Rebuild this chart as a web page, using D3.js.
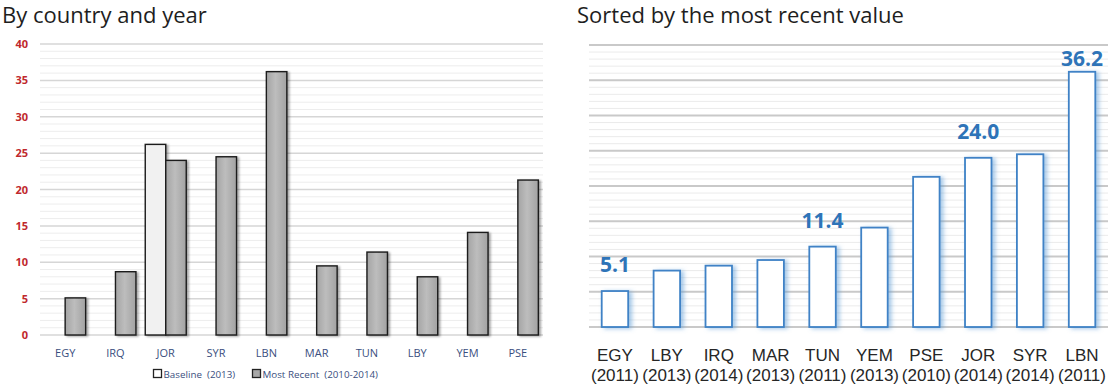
<!DOCTYPE html>
<html>
<head>
<meta charset="utf-8">
<script src="https://cdnjs.cloudflare.com/ajax/libs/d3/7.8.5/d3.min.js"></script>
<style>
  html, body { margin: 0; padding: 0; background: #ffffff; }
  svg { display: block; font-family: "Open Sans", "Noto Sans", sans-serif; }
</style>
</head>
<body>
<svg id="chart" width="1112" height="390"></svg>
<script>
// Countries in their reporting order
const countries = ["EGY", "IRQ", "JOR", "SYR", "LBN", "MAR", "TUN", "LBY", "YEM", "PSE"];
// Baseline (2013) — only Jordan reports one
const baselineValues = [null, null, 26.2, null, null, null, null, null, null, null];
// Most recent value (2010-2014)
const recentValues = [5.1, 8.7, 24.0, 24.5, 36.2, 9.5, 11.4, 8.0, 14.1, 21.3];
// Year of the most recent value
const recentYears = [2011, 2014, 2014, 2014, 2011, 2013, 2011, 2013, 2013, 2010];
// Y axis ticks
const yTicks = [0, 5, 10, 15, 20, 25, 30, 35, 40];
// Countries whose value is written above the bar in the sorted panel
const labelledCountries = ["EGY", "TUN", "JOR", "LBN"];
// Legend entries
const legendLabels = ["Baseline  (2013)", "Most Recent  (2010-2014)"];
// Panel titles
const titles = ["By country and year", "Sorted by the most recent value"];

const rows = countries.map((c, i) => ({
  country: c, baseline: baselineValues[i], recent: recentValues[i], year: recentYears[i]
}));

const svg = d3.select("#chart");
const defs = svg.append("defs");

// Grey bar gradient and shadow for the left panel
const grad = defs.append("linearGradient").attr("id", "greyBar")
  .attr("x1", 0).attr("y1", 0).attr("x2", 1).attr("y2", 0);
grad.append("stop").attr("offset", "0%").attr("stop-color", "#a4a4a4");
grad.append("stop").attr("offset", "45%").attr("stop-color", "#bdbdbd");
grad.append("stop").attr("offset", "100%").attr("stop-color", "#a2a2a2");

const shadowGrey = defs.append("filter").attr("id", "shadowGrey")
  .attr("x", "-20%").attr("y", "-10%").attr("width", "160%").attr("height", "130%");
shadowGrey.append("feDropShadow").attr("dx", 2).attr("dy", 1).attr("stdDeviation", 1)
  .attr("flood-color", "#000").attr("flood-opacity", 0.35);

const shadowBlue = defs.append("filter").attr("id", "shadowBlue")
  .attr("x", "-20%").attr("y", "-10%").attr("width", "180%").attr("height", "130%");
shadowBlue.append("feDropShadow").attr("dx", 3).attr("dy", 1).attr("stdDeviation", 2)
  .attr("flood-color", "#5b9bd5").attr("flood-opacity", 0.55);

const sansFont = "'Open Sans', 'Noto Sans', sans-serif";
const catFont = "'Liberation Sans', Arial, sans-serif";

// Titles
svg.append("text").attr("x", 2).attr("y", 23).attr("font-size", 22).attr("fill", "#1e1e1e")
  .style("font-family", sansFont).text(titles[0]);
svg.append("text").attr("x", 577).attr("y", 23).attr("font-size", 22).attr("fill", "#1e1e1e")
  .style("font-family", sansFont).text(titles[1]);

// Gridlines: a line every unit, darker every five
function drawGrid(g, y, x0, x1, majorColor, minorColor, majorWidth) {
  const units = d3.range(0, 41);
  g.selectAll("line.grid").data(units).join("line")
    .attr("class", "grid")
    .attr("x1", x0).attr("x2", x1)
    .attr("y1", d => y(d)).attr("y2", d => y(d))
    .attr("stroke", d => d % 5 === 0 ? majorColor : minorColor)
    .attr("stroke-width", d => d % 5 === 0 ? majorWidth : 1);
}

// ---------- Left panel: by country and year ----------
const L = { left: 40, right: 543, top: 44, bottom: 335 };
const yL = d3.scaleLinear().domain([0, 40]).range([L.bottom, L.top]);
const xL = d3.scaleBand().domain(countries).range([L.left, L.right])
  .paddingInner(0.185).paddingOuter(0.0925);
const xSeries = d3.scaleBand().domain(["baseline", "recent"]).range([0, xL.bandwidth()]);

const gL = svg.append("g");
drawGrid(gL, yL, L.left, L.right, "#d6d6d6", "#ededed", 1.5);

// Y axis labels
const yAxisL = d3.axisLeft(yL).tickValues(yTicks).tickSize(0).tickPadding(0);
const gAxisY = gL.append("g").attr("transform", `translate(${L.left - 12},0)`).call(yAxisL);
gAxisY.select(".domain").remove();
gAxisY.attr("font-family", null).attr("font-size", null);
gAxisY.selectAll("text").attr("font-size", 11).attr("font-weight", "bold")
  .attr("fill", "#c0282d").style("font-family", sansFont);

// Bars
const groups = gL.selectAll("g.country").data(rows).join("g")
  .attr("class", "country").attr("transform", d => `translate(${xL(d.country)},0)`);
groups.filter(d => d.baseline != null).append("rect")
  .attr("x", xSeries("baseline")).attr("width", xSeries.bandwidth())
  .attr("y", d => yL(d.baseline)).attr("height", d => yL(0) - yL(d.baseline))
  .attr("fill", "#f1f1f1").attr("stroke", "#1a1a1a").attr("stroke-width", 1.4)
  .attr("filter", "url(#shadowGrey)");
groups.append("rect")
  .attr("x", xSeries("recent")).attr("width", xSeries.bandwidth())
  .attr("y", d => yL(d.recent)).attr("height", d => yL(0) - yL(d.recent))
  .attr("fill", "url(#greyBar)").attr("stroke", "#1a1a1a").attr("stroke-width", 1.4)
  .attr("filter", "url(#shadowGrey)");

// X axis labels
const xAxisL = d3.axisBottom(xL).tickSize(0).tickPadding(0);
const gAxisX = gL.append("g").attr("transform", `translate(0,${L.bottom + 14})`).call(xAxisL);
gAxisX.select(".domain").remove();
gAxisX.selectAll("text").attr("font-size", 11).attr("fill", "#3a4e7e")
  .style("font-family", sansFont);

// Legend
const legend = gL.append("g").attr("transform", "translate(153,369)");
const legendFills = ["#ffffff", "#a8a8a8"];
const legendX = [0, 99];
legendLabels.forEach((lab, i) => {
  const g = legend.append("g").attr("transform", `translate(${legendX[i]},0)`);
  g.append("rect").attr("x", 0.5).attr("y", 0.5).attr("width", 8).attr("height", 8)
    .attr("fill", legendFills[i]).attr("stroke", "#222").attr("stroke-width", 1.3);
  g.append("text").attr("x", 10.5).attr("y", 8.5).attr("font-size", 9.8)
    .attr("fill", "#3a4e7e").style("white-space", "pre").style("font-family", sansFont).text(lab);
});

// ---------- Right panel: sorted by most recent value ----------
const sorted = rows.slice().sort((a, b) => a.recent - b.recent);
const R = { left: 589, right: 1108, top: 45, bottom: 327 };
const yR = d3.scaleLinear().domain([0, 40]).range([R.bottom, R.top]);
const xR = d3.scaleBand().domain(sorted.map(d => d.country)).range([R.left, R.right])
  .paddingInner(0.49).paddingOuter(0.245);

const gR = svg.append("g");
drawGrid(gR, yR, R.left, R.right, "#c9c9c9", "#ebebeb", 1.8);

gR.selectAll("rect.bar").data(sorted).join("rect")
  .attr("class", "bar")
  .attr("x", d => xR(d.country)).attr("width", xR.bandwidth())
  .attr("y", d => yR(d.recent)).attr("height", d => yR(0) - yR(d.recent))
  .attr("fill", "#ffffff").attr("stroke", "#3f82c6").attr("stroke-width", 1.8)
  .attr("filter", "url(#shadowBlue)");

// Value labels above selected bars, kept inside the panel top
gR.selectAll("text.value").data(sorted.filter(d => labelledCountries.includes(d.country))).join("text")
  .attr("class", "value")
  .attr("x", d => xR(d.country) + xR.bandwidth() / 2)
  .attr("y", d => Math.max(yR(d.recent) - 19, R.top + 21))
  .attr("text-anchor", "middle").attr("font-size", 21).attr("font-weight", "bold")
  .attr("fill", "#2e74b8").style("font-family", sansFont)
  .text(d => d3.format(".1f")(d.recent));

// Two-line category labels: country code over year
gR.selectAll("text.cat").data(sorted).join("text").attr("class", "cat")
  .attr("x", d => xR(d.country) + xR.bandwidth() / 2).attr("y", 361)
  .attr("text-anchor", "middle").attr("fill", "#262626").attr("font-size", 17)
  .style("font-family", catFont)
  .text(d => d.country);
gR.selectAll("text.year").data(sorted).join("text").attr("class", "year")
  .attr("x", d => xR(d.country) + xR.bandwidth() / 2).attr("y", 381)
  .attr("text-anchor", "middle").attr("fill", "#262626").attr("font-size", 17)
  .style("font-family", catFont)
  .text(d => `(${d.year})`);
</script>
</body>
</html>
